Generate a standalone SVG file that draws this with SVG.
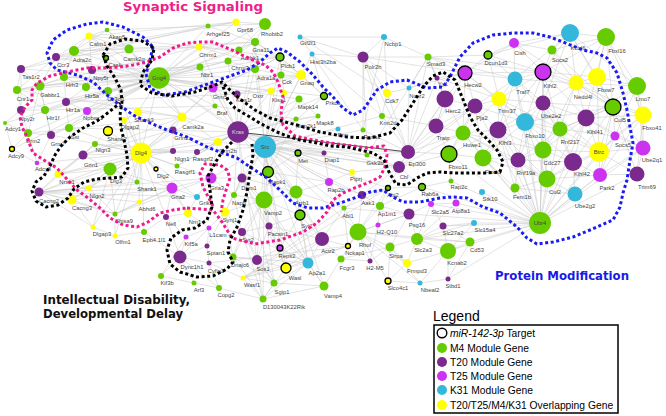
<svg xmlns="http://www.w3.org/2000/svg" width="666" height="416" viewBox="0 0 666 416">
<style>
.e{stroke:#c6c6c6;stroke-width:.5;fill:none}
.dk{stroke:#333;stroke-width:.9;fill:none}
.g{fill:#66cc00}.p{fill:#7a2a8c}.m{fill:#cc33f0}.c{fill:#33b8dc}.y{fill:#ffff00}
.t{stroke:#000;stroke-width:1.3}
text{font-family:"Liberation Sans",Arial,sans-serif}
.n text{font-size:5.8px;fill:#444;text-anchor:middle}
.dot{fill:none;stroke-width:3;stroke-dasharray:3 2.6;stroke-linejoin:round}
.bl{stroke:#1a1af5}.pk{stroke:#f01a8c}.bk{stroke:#000}
.ttl{font-family:"DejaVu Sans",Verdana,sans-serif;font-weight:bold}
.lg{font-size:10.3px;fill:#000}
</style>
<rect width="666" height="416" fill="#fff"/>
<g id="connectors">
<path class="e" d="M159 78L89 36M159 78L107 30M159 78L129 49M159 78L106 58M159 78L74 51M159 78L56 57M159 78L92 70M159 78L64 77M159 78L86 87M159 78L108 91M159 78L199 47M159 78L208 26M159 78L200 67M159 78L213 88M159 78L215 106M159 78L40 86M159 78L66 102M159 78L87 111M159 78L21 69M159 78L17 90M159 78L21 110M159 78L45 110M159 78L28 133M159 78L51 135M159 78L69 128M159 78L255 42M159 78L265 24M159 78L236 22M159 78L239 50M159 78L228 61M159 78L280 57M159 78L255 69M159 78L301 75M159 78L238 132M159 78L265 147M159 78L271 91M159 78L237 94M159 78L324 96M159 78L299 99M159 78L182 117M159 78L5 123M159 78L12 149M159 78L138 112M159 78L141 153"/>
<path class="e" d="M89 36L129 49M89 36L107 30M89 36L74 51M89 36L56 57M89 36L92 70M89 36L182 117M89 36L199 47M89 36L236 22M107 30L129 49M107 30L74 51M107 30L208 26M74 51L56 57M74 51L64 77M74 51L40 86M74 51L92 70M56 57L21 69M56 57L40 86M56 57L64 77M56 57L17 90M21 69L40 86M21 69L17 90M21 69L21 110M64 77L40 86M64 77L86 87M64 77L66 102M40 86L17 90M40 86L45 110M40 86L21 110M40 86L28 133M40 86L51 135M17 90L21 110M17 90L45 110M21 110L45 110M21 110L28 133M21 110L5 123M45 110L66 102M45 110L51 135M66 102L86 87M66 102L87 111M66 102L69 128M86 87L108 91M86 87L92 70M87 111L108 91M87 111L69 128M28 133L51 135M28 133L12 149M28 133L5 123M51 135L69 128M5 123L12 149M12 149L37 163M37 163L28 133M51 135L37 163M108 91L106 58M92 70L106 58M106 58L129 49M74 51L199 47M74 51L208 26M56 57L199 47M92 70L200 67M64 77L213 88M40 86L228 61M17 90L199 47M66 102L228 61M69 128L238 132M28 133L182 117M21 69L208 26M56 57L236 22M74 51L255 42M40 86L200 67M17 90L182 117M45 110L215 106M66 102L237 94M129 49L182 117M106 58L141 153M108 91L141 153"/>
<path class="e" d="M141 153L138 112M141 153L108 131M141 153L137 182M141 153L124 120M141 153L93 227M141 153L156 169M141 153L110 169M141 153L83 155M141 153L173 130M141 153L218 142M141 153L173 151M141 153L89 188M141 153L95 144M141 153L39 192M141 153L72 200M141 153L172 188M141 153L211 178M141 153L182 117M141 153L177 166M141 153L197 152M141 153L58 174M141 153L139 202M141 153L115 214M141 153L115 236M141 153L166 217M141 153L197 197M141 153L144 232M141 153L238 132M141 153L265 147M141 153L188 213M141 153L37 163M141 153L51 135M141 153L69 128M141 153L213 88M141 153L215 106"/>
<path class="e" d="M110 169L83 155M110 169L89 188M110 169L72 200M110 169L39 192M110 169L137 182M110 169L58 174M110 169L93 227M110 169L115 214M110 169L172 188M83 155L95 144M83 155L108 131M83 155L58 174M83 155L39 192M83 155L173 130M83 155L182 117M39 192L58 174M39 192L72 200M39 192L172 188M39 192L89 188M39 192L115 214M39 192L139 202M39 192L211 178M39 192L93 227M39 192L197 197M39 192L137 182M72 200L115 214M72 200L93 227M72 200L172 188M89 188L58 174M89 188L115 214M58 174L95 144M173 151L58 174M172 188L211 178M172 188L197 197M172 188L115 214M172 188L188 213M172 188L166 217M211 178L197 197M211 178L218 142M211 178L115 214M115 214L115 236M115 236L93 227M166 217L186 237M166 217L144 232M166 217L188 213M144 232L115 236M137 182L124 120M124 120L138 112M108 131L138 112M138 112L182 117M182 117L173 130M182 117L218 142M182 117L213 88M182 117L238 132M173 130L218 142M218 142L197 152M218 142L238 132M177 166L238 132M197 152L238 132M173 130L173 151M173 151L95 144M211 178L242 178M211 178L234 195M197 197L188 213M180 257L186 237M180 257L161 276M180 257L194 283M180 257L219 288M180 257L207 246M180 257L209 263M180 257L166 217M180 257L209 228M180 257L144 232M161 276L186 237M161 276L194 283M194 283L219 288M219 288L209 263M207 246L209 228M207 246L225 212M207 246L209 263M186 237L209 228M209 228L225 212M188 213L209 228M225 212L234 195M225 212L242 178M225 212L233 257M225 212L242 232M225 212L264 200M115 214L139 202M139 202L172 188"/>
<path class="e" d="M238 132L215 106M238 132L296 119M238 132L268 172M238 132L265 147M238 132L257 260M238 132L177 166M238 132L197 152M238 132L218 142M238 132L324 96M238 132L299 99M238 132L318 116M238 132L367 155M238 132L399 167M238 132L213 88M238 132L237 94M238 132L200 67M238 132L199 47M238 132L255 42M238 132L255 69M238 132L228 61M238 132L271 91M238 132L298 153M238 132L324 153M238 132L329 182M238 132L242 178M238 132L234 195M238 132L296 192"/>
<path class="e" d="M265 147L298 153M265 147L324 153M265 147L242 178M265 147L296 192M265 147L399 167M265 147L352 172M265 147L344 208M265 147L329 182M265 147L300 215M265 147L264 200M265 147L269 226M265 147L257 260M265 147L268 172M265 147L255 42M265 147L301 75M265 147L324 96M265 147L408 152M265 147L382 116M265 147L299 99M265 147L296 119M265 147L318 116M265 147L367 155M265 147L338 129M265 147L218 142M265 147L280 57M265 147L255 69M265 147L281 75M265 147L284 93M265 147L271 91M265 147L286 268M265 147L322 239M265 147L362 195M265 147L388 188M265 147L280 248M265 147L308 263M265 147L358 232M265 147L211 178M265 147L234 195M265 147L363 130M265 147L312 54"/>
<path class="e" d="M367 155L408 152M367 155L399 167M367 155L428 57M367 155L363 57M408 152L428 57M408 152L437 78M408 152L409 88M408 152L387 93M408 152L363 57M408 152L382 116M408 152L436 126M408 152L445 99M408 152L463 133M408 152L399 167M408 152L363 130M363 57L384 37M363 57L300 37M363 57L387 93M363 57L312 54M363 57L409 88M363 57L428 57M363 57L382 116M363 57L363 130M300 37L384 37M300 37L312 54M300 37L387 93M384 37L387 93M384 37L428 57M384 37L363 130M312 54L324 96M312 54L363 130M312 54L382 116M428 57L437 78M428 57L409 88M428 57L445 99M428 57L465 73M428 57L488 55M428 57L515 79M387 93L409 88M387 93L382 116M437 78L409 88M437 78L465 73M445 99L436 126M436 126L382 116M399 167L388 188M399 167L422 187M399 167L352 172M399 167L298 153M399 167L362 195M399 167L449 154M399 167L463 133M399 167L445 99M298 153L324 153M298 153L352 172M324 153L329 182M268 172L296 119M296 119L215 106M299 99L318 116M318 116L296 119M324 96L301 75M324 96L280 57M301 75L280 57M301 75L255 42M255 42L280 57M255 42L255 69M255 42L228 61M255 42L239 50M255 42L265 24M236 22L255 42M236 22L265 24M265 24L239 50M255 69L228 61M255 69L281 75M255 69L280 57M281 75L280 57M271 91L301 75M237 94L301 75M284 93L280 57M228 61L280 57M239 50L228 61M213 88L301 75M213 88L280 57M199 47L301 75M200 67L215 106M208 26L255 42M208 26L265 24M199 47L255 42M199 47L239 50M208 26L236 22M199 47L280 57M213 88L255 69M237 94L271 91"/>
<path class="e" d="M308 263L242 178M308 263L274 283M308 263L286 268M308 263L300 215M308 263L280 248M308 263L324 286M308 263L322 239M308 263L296 192M308 263L242 232M308 263L233 257M308 263L269 226M274 283L233 257M274 283L243 278M274 283L242 178M274 283L324 286M274 283L263 299M274 283L257 260M274 283L242 232M274 283L264 200M263 299L264 200M263 299L243 278M263 299L257 260M263 299L286 268M263 299L324 286M263 299L233 257M263 299L242 232M263 299L308 263M263 299L219 288M324 286L264 200M324 286L300 215M324 286L341 259M286 268L322 239M286 268L348 246M286 268L243 278M286 268L269 226M286 268L257 260M286 268L242 178M243 278L209 263M243 278L322 239M243 278L348 246M243 278L388 188M243 278L344 208M322 239L348 246M322 239L296 192M322 239L358 232M322 239L344 208M322 239L341 259M322 239L269 226M322 239L300 215M348 246L388 188M348 246L209 263M348 246L344 208M358 232L341 259M358 232L370 261M358 232L378 225M358 232L390 247M358 232L344 208M358 232L417 239M358 232L380 206M358 232L362 195M358 232L409 214M358 232L420 283M358 232L388 281M358 232L407 263M358 232L470 242M341 259L370 261M341 259L390 247M370 261L378 225M370 261L390 247M390 247L417 239M390 247L409 214M390 247L407 263M390 247L420 283M417 239L431 204M417 239L443 226M417 239L448 251M417 239L474 223M417 239L409 214M417 239L407 263M417 239L456 203M417 239L470 242M409 214L380 206M409 214L378 225M409 214L431 204M409 214L344 208M362 195L380 206M362 195L344 208M362 195L329 182M362 195L352 172M362 195L388 188M380 206L388 188M380 206L422 187M380 206L378 225M344 208L388 188M344 208L329 182M344 208L296 192M388 188L422 187M422 187L451 181M422 187L431 204M431 204L456 203M443 226L474 223M443 226L448 251M443 226L470 242M443 226L431 204M448 251L470 242M448 251L448 279M448 251L420 283M448 251L474 223M448 251L407 263M448 279L420 283M448 279L470 242M388 281L407 263M388 281L420 283M388 281L390 247M296 192L300 215M296 192L264 200M296 192L268 172M296 192L242 178M296 192L329 182M296 192L298 153M300 215L264 200M300 215L269 226M300 215L280 248M264 200L234 195M264 200L242 232M264 200L242 178M264 200L269 226M264 200L268 172M264 200L233 257M269 226L242 178M269 226L242 232M269 226L280 248M269 226L257 260M257 260L280 248M257 260L242 232M257 260L233 257M242 232L233 257M242 232L234 195M242 178L234 195M242 178L268 172M268 172L298 153M268 172L329 182M329 182L352 172M352 172L298 153"/>
<path class="e" d="M540 223L547 179M540 223L515 188M540 223L543 150M540 223L575 194M540 223L518 160M540 223L600 175M540 223L573 162M540 223L451 181M540 223L482 192M540 223L456 203M540 223L431 204M540 223L474 223M540 223L443 226M540 223L470 242M540 223L448 251M540 223L463 133M540 223L449 154M540 223L483 158M540 223L560 129M540 223L586 118M540 223L525 122M540 223L498 130M540 223L599 152M540 223L637 174M540 223L643 148M540 223L615 136M540 223L543 103M540 223L515 79M540 223L543 72M540 223L499 99M540 223L475 106M540 223L448 279M540 223L409 214M540 223L417 239M540 223L422 187"/>
<path class="e" d="M613 107L552 50M613 107L615 136M613 107L514 43M613 107L570 33M613 107L637 86M613 107L643 115M613 107L586 118M613 107L597 77M613 107L576 83M613 107L643 148M613 107L599 152M613 107L600 175M613 107L637 174M613 107L543 72M613 107L543 103M613 107L560 129M613 107L606 37M613 107L525 122M613 107L573 162M547 179L515 188M547 179L518 160M547 179L573 162M547 179L543 150M547 179L575 194M547 179L600 175M547 179L599 152M547 179L525 122M547 179L498 130M547 179L463 133M547 179L483 158M547 179L543 72M547 179L586 118M599 152L597 77M599 152L543 150M599 152L643 148M599 152L615 136M599 152L573 162M599 152L637 174M599 152L560 129M599 152L586 118M599 152L643 115M599 152L600 175M599 152L525 122M599 152L543 103M465 73L475 106M465 73L445 99M465 73L463 133M465 73L515 79M465 73L514 43M465 73L488 55M465 73L543 72M465 73L499 99M465 73L436 126M465 73L525 122M543 72L570 33M543 72L552 50M543 72L515 79M543 72L576 83M543 72L597 77M543 72L543 103M543 72L499 99M543 72L498 130M543 72L586 118M543 72L514 43M543 72L488 55M543 72L606 37M543 72L560 129M543 72L525 122M570 33L606 37M570 33L552 50M570 33L514 43M570 33L597 77M570 33L576 83M570 33L488 55M570 33L515 79M570 33L543 103M570 33L637 86M606 37L637 86M606 37L597 77M606 37L552 50M606 37L576 83M606 37L586 118M606 37L643 115M515 79L499 99M515 79L475 106M515 79L543 103M515 79L525 122M515 79L514 43M515 79L498 130M515 79L488 55M515 79L576 83M515 79L560 129M576 83L543 103M576 83L586 118M576 83L597 77M576 83L637 86M576 83L560 129M576 83L543 150M576 83L643 115M637 86L643 115M637 86L597 77M637 86L643 148M637 86L586 118M637 86L615 136M643 115L643 148M643 115L615 136M643 115L586 118M643 115L637 174M643 115L600 175M499 99L475 106M499 99L525 122M499 99L498 130M499 99L543 103M499 99L463 133M499 99L560 129M475 106L498 130M475 106L463 133M475 106L445 99M475 106L449 154M475 106L436 126M475 106L483 158M475 106L525 122M543 103L525 122M543 103L560 129M543 103L586 118M543 103L498 130M543 103L543 150M543 103L573 162M543 103L518 160M586 118L560 129M586 118L615 136M586 118L573 162M586 118L543 150M586 118L643 148M525 122L498 130M525 122L560 129M525 122L543 150M525 122L518 160M525 122L483 158M525 122L573 162M498 130L463 133M498 130L483 158M498 130L518 160M498 130L543 150M498 130L449 154M498 130L515 188M560 129L543 150M560 129L573 162M560 129L518 160M560 129L615 136M463 133L449 154M463 133L483 158M463 133L445 99M463 133L436 126M463 133L518 160M463 133L543 150M615 136L643 148M615 136L600 175M643 148L637 174M643 148L600 175M543 150L518 160M543 150L573 162M449 154L483 158M449 154L451 181M449 154L436 126M483 158L518 160M483 158L515 188M518 160L515 188M518 160L573 162M573 162L600 175M573 162L575 194M600 175L637 174M600 175L575 194M575 194L515 188M445 99L436 126M445 99L437 78M445 99L428 57M488 55L514 43M488 55L499 99M552 50L514 43M552 50L576 83M399 167L475 106M408 152L475 106M408 152L449 154M428 57L543 72M437 78L499 99M363 57L465 73M409 88L465 73"/>
<path class="dk" d="M238 132L408 152"/>
</g>
<g id="nodes">
<g class="n" id="n-calm1"><circle class="y" cx="89" cy="36" r="3.5"/><text x="98" y="46">Calm1</text></g>
<g class="n" id="n-akap5"><circle class="g" cx="107" cy="30" r="2.3"/><text x="117" y="39">Akap5</text></g>
<g class="n" id="n-camk2g"><circle class="g" cx="129" cy="49" r="4.5"/><text x="134" y="61">Camk2g</text></g>
<g class="n" id="n-cask"><circle class="g t" cx="106" cy="58" r="2.5"/><text x="115" y="67">Cask</text></g>
<g class="n" id="n-adra2c"><circle class="g" cx="74" cy="51" r="5"/><text x="82" y="62">Adra2c</text></g>
<g class="n" id="n-ccr3"><circle class="p" cx="56" cy="57" r="4"/><text x="63" y="67">Ccr3</text></g>
<g class="n" id="n-tas1r2"><circle class="p" cx="21" cy="69" r="4"/><text x="31" y="79">Tas1r2</text></g>
<g class="n" id="n-npy5r"><circle class="p" cx="92" cy="70" r="4"/><text x="101" y="80">Npy5r</text></g>
<g class="n" id="n-hrh3"><circle class="g" cx="64" cy="77" r="4"/><text x="72" y="87">Hrh3</text></g>
<g class="n" id="n-gng4"><circle class="g" cx="159" cy="78" r="10.7"/><text x="159" y="80">Gng4</text></g>
<g class="n" id="n-cnr1"><circle class="g" cx="17" cy="90" r="4"/><text x="23" y="101">Cnr1</text></g>
<g class="n" id="n-gabbr1"><circle class="g" cx="40" cy="86" r="4.5"/><text x="50" y="97">Gabbr1</text></g>
<g class="n" id="n-htr5a"><circle class="g" cx="86" cy="87" r="4"/><text x="92" y="98">Htr5a</text></g>
<g class="n" id="n-cx3cl1"><circle class="g" cx="108" cy="91" r="4"/><text x="116" y="101">Cx3cl1</text></g>
<g class="n" id="n-chrm1"><circle class="y" cx="199" cy="47" r="3.5"/><text x="208" y="57">Chrm1</text></g>
<g class="n" id="n-arhgef25"><circle class="g" cx="208" cy="26" r="2.5"/><text x="218" y="36">Arhgef25</text></g>
<g class="n" id="n-nbr1"><circle class="g" cx="200" cy="67" r="3.5"/><text x="207" y="77">Nbr1</text></g>
<g class="n" id="n-grm5"><circle class="m" cx="213" cy="88" r="4.5"/><text x="220" y="99">Grm5</text></g>
<g class="n" id="n-braf"><circle class="g" cx="215" cy="106" r="2.5"/><text x="222" y="115">Braf</text></g>
<g class="n" id="n-htr1a"><circle class="p" cx="66" cy="102" r="4"/><text x="73" y="112">Htr1a</text></g>
<g class="n" id="n-htr1f"><circle class="g" cx="45" cy="110" r="4"/><text x="53" y="120">Htr1f</text></g>
<g class="n" id="n-npy2r"><circle class="p" cx="21" cy="110" r="4"/><text x="27" y="121">Npy2r</text></g>
<g class="n" id="n-npbwr1"><circle class="m" cx="87" cy="111" r="4"/><text x="93" y="120">Npbwr1</text></g>
<g class="n" id="n-shank3"><circle class="y" cx="138" cy="112" r="4"/><text x="144" y="122">Shank3</text></g>
<g class="n" id="n-dlgap2"><circle class="y" cx="124" cy="120" r="3"/><text x="130" y="129">Dlgap2</text></g>
<g class="n" id="n-camk2a"><circle class="y" cx="182" cy="117" r="4.5"/><text x="193" y="129">Camk2a</text></g>
<g class="n" id="n-adcy1"><circle class="g" cx="5" cy="123" r="2"/><text x="13" y="131">Adcy1</text></g>
<g class="n" id="n-grm2"><circle class="g" cx="28" cy="133" r="4"/><text x="33" y="143">Grm2</text></g>
<g class="n" id="n-grm7"><circle class="p" cx="51" cy="135" r="4"/><text x="58" y="146">Grm7</text></g>
<g class="n" id="n-sst"><circle class="g" cx="69" cy="128" r="4"/><text x="75" y="139">Sst</text></g>
<g class="n" id="n-shank2"><circle class="y t" cx="108" cy="131" r="4.5"/><text x="117" y="141">Shank2</text></g>
<g class="n" id="n-grin2a"><circle class="p" cx="173" cy="130" r="3.5"/><text x="183" y="140">Grin2a</text></g>
<g class="n" id="n-nlgn3"><circle class="g" cx="95" cy="144" r="3"/><text x="103" y="152">Nlgn3</text></g>
<g class="n" id="n-dlg4"><circle class="y" cx="141" cy="153" r="10.5"/><text x="141" y="155">Dlg4</text></g>
<g class="n" id="n-adcy9"><circle class="y t" cx="12" cy="149" r="2.5"/><text x="16" y="158">Adcy9</text></g>
<g class="n" id="n-adcy8"><circle class="m" cx="37" cy="163" r="2.3"/><text x="43" y="171">Adcy8</text></g>
<g class="n" id="n-grin1"><circle class="p" cx="83" cy="155" r="4.5"/><text x="91" y="167">Grin1</text></g>
<g class="n" id="n-nlgn1"><circle class="p" cx="173" cy="151" r="3"/><text x="182" y="161">Nlgn1</text></g>
<g class="n" id="n-rasgrf2"><circle class="p" cx="197" cy="152" r="3"/><text x="203" y="161">Rasgrf2</text></g>
<g class="n" id="n-grin2b"><circle class="y" cx="218" cy="142" r="4"/><text x="228" y="153">Grin2b</text></g>
<g class="n" id="n-rasgrf1"><circle class="g" cx="177" cy="166" r="2.5"/><text x="185" y="174">Rasgrf1</text></g>
<g class="n" id="n-dlg2"><circle class="y t" cx="156" cy="169" r="2"/><text x="163" y="178">Dlg2</text></g>
<g class="n" id="n-dlg3"><circle class="g" cx="110" cy="169" r="6.5"/><text x="116" y="183">Dlg3</text></g>
<g class="n" id="n-nrxn1"><circle class="y" cx="58" cy="174" r="3.5"/><text x="67" y="184">Nrxn1</text></g>
<g class="n" id="n-shank1"><circle class="g" cx="137" cy="182" r="2.5"/><text x="147" y="191">Shank1</text></g>
<g class="n" id="n-gria2"><circle class="m" cx="172" cy="188" r="5.5"/><text x="178" y="199">Gria2</text></g>
<g class="n" id="n-gria3"><circle class="m" cx="211" cy="178" r="5.5"/><text x="217" y="190">Gria3</text></g>
<g class="n" id="n-cacng2"><circle class="p" cx="39" cy="192" r="4.5"/><text x="49" y="203">Cacng2</text></g>
<g class="n" id="n-nlgn2"><circle class="y" cx="89" cy="188" r="3"/><text x="97" y="198">Nlgn2</text></g>
<g class="n" id="n-cacng3"><circle class="y" cx="72" cy="200" r="4.5"/><text x="82" y="210">Cacng3</text></g>
<g class="n" id="n-abhd6"><circle class="y" cx="139" cy="202" r="2.5"/><text x="147" y="211">Abhd6</text></g>
<g class="n" id="n-grik"><text x="206" y="205">Grik5</text><circle class="c" cx="197" cy="197" r="3"/></g>
<g class="n" id="n-synj1"><circle class="y" cx="225" cy="212" r="4.5"/><text x="230" y="222">Synj1</text></g>
<g class="n" id="n-nrn1"><circle class="y" cx="188" cy="213" r="4"/><text x="195" y="224">Nrn1</text></g>
<g class="n" id="n-shisa9"><circle class="g" cx="115" cy="214" r="2.5"/><text x="124" y="223">Shisa9</text></g>
<g class="n" id="n-nefl"><circle class="p" cx="166" cy="217" r="3"/><text x="171" y="226">Nefl</text></g>
<g class="n" id="n-dlgap3"><circle class="y" cx="93" cy="227" r="2.5"/><text x="102" y="236">Dlgap3</text></g>
<g class="n" id="n-olfm1"><circle class="y" cx="115" cy="236" r="2.5"/><text x="123" y="244">Olfm1</text></g>
<g class="n" id="n-epb41l1"><circle class="g" cx="144" cy="232" r="3"/><text x="154" y="242">Epb4.1l1</text></g>
<g class="n" id="n-l1cam"><circle class="m" cx="209" cy="228" r="2.5"/><text x="218" y="237">L1cam</text></g>
<g class="n" id="n-kif5a"><circle class="m" cx="186" cy="237" r="2.5"/><text x="191" y="246">Kif5a</text></g>
<g class="n" id="n-sptan1"><circle class="p" cx="207" cy="246" r="2.5"/><text x="216" y="255">Sptan1</text></g>
<g class="n" id="n-dync1h1"><circle class="p" cx="180" cy="257" r="6.5"/><text x="192" y="269">Dync1h1</text></g>
<g class="n" id="n-cyfip2"><circle class="p" cx="209" cy="263" r="2.5"/><text x="216" y="273">Cyfip2</text></g>
<g class="n" id="n-kif3b"><circle class="g" cx="161" cy="276" r="3"/><text x="167" y="285">Kif3b</text></g>
<g class="n" id="n-arf3"><circle class="g" cx="194" cy="283" r="2.5"/><text x="199" y="292">Arf3</text></g>
<g class="n" id="n-copg2"><circle class="g" cx="219" cy="288" r="3"/><text x="226" y="297">Copg2</text></g>
<g class="n" id="n-gpr68"><circle class="y" cx="236" cy="22" r="3.5"/><text x="245" y="32">Gpr68</text></g>
<g class="n" id="n-rhobtb2"><circle class="g" cx="265" cy="24" r="6"/><text x="272" y="36">Rhobtb2</text></g>
<g class="n" id="n-gna11"><circle class="g" cx="255" cy="42" r="4"/><text x="261" y="52">Gna11</text></g>
<g class="n" id="n-adrbk1"><circle class="g" cx="239" cy="50" r="3.5"/><text x="250" y="60">Adrbk1</text></g>
<g class="n" id="n-chrm3"><circle class="g" cx="228" cy="61" r="3.5"/><text x="240" y="70">Chrm3</text></g>
<g class="n" id="n-plcb1"><circle class="g t" cx="280" cy="57" r="4"/><text x="288" y="68">Plcb1</text></g>
<g class="n" id="n-adra1a"><circle class="g" cx="255" cy="69" r="4"/><text x="266" y="80">Adra1a</text></g>
<g class="n" id="n-cck"><circle class="g" cx="281" cy="75" r="3.5"/><text x="287" y="84">Cck</text></g>
<g class="n" id="n-gnaq"><circle class="y" cx="301" cy="75" r="5"/><text x="307" y="85">Gnaq</text></g>
<g class="n" id="n-oxtr"><circle class="y" cx="271" cy="91" r="3.5"/><text x="258" y="98">Oxtr</text></g>
<g class="n" id="n-kiss1r"><circle class="p" cx="237" cy="94" r="3.5"/><text x="244" y="102">Kiss1r</text></g>
<g class="n" id="n-kiss1"><circle class="y" cx="284" cy="93" r="3"/><text x="279" y="102">Kiss1</text></g>
<g class="n" id="n-mapk14"><circle class="g" cx="299" cy="99" r="3.5"/><text x="308" y="109">Mapk14</text></g>
<g class="n" id="n-prkca"><circle class="g t" cx="324" cy="96" r="3.5"/><text x="333" y="105">Prkca</text></g>
<g class="n" id="n-map2k1"><circle class="g" cx="296" cy="119" r="2.5"/><text x="306" y="128">Map2k1</text></g>
<g class="n" id="n-mapk8"><circle class="g" cx="318" cy="116" r="2.5"/><text x="325" y="125">Mapk8</text></g>
<g class="n" id="n-pnp"><circle class="c" cx="338" cy="129" r="2.5"/><text x="343" y="137">Pnp</text></g>
<g class="n" id="n-gtf2f1"><circle class="c" cx="300" cy="37" r="2.5"/><text x="308" y="45">Gtf2f1</text></g>
<g class="n" id="n-ncbp1"><circle class="c" cx="384" cy="37" r="3"/><text x="393" y="46">Ncbp1</text></g>
<g class="n" id="n-hist3h2ba"><circle class="c" cx="312" cy="54" r="2.5"/><text x="323" y="64">Hist3h2ba</text></g>
<g class="n" id="n-polr2h"><circle class="p" cx="363" cy="57" r="5.5"/><text x="373" y="69">Polr2h</text></g>
<g class="n" id="n-smad3"><circle class="g" cx="428" cy="57" r="3.5"/><text x="436" y="66">Smad3</text></g>
<g class="n" id="n-cdk7"><circle class="y" cx="387" cy="93" r="4"/><text x="392" y="103">Cdk7</text></g>
<g class="n" id="n-ncor2"><circle class="c" cx="409" cy="88" r="2.5"/><text x="417" y="98">Ncor2</text></g>
<g class="n" id="n-yy1"><circle class="p" cx="437" cy="78" r="2.5"/><text x="443" y="86">Yy1</text></g>
<g class="n" id="n-kmt2d"><circle class="g" cx="382" cy="116" r="3"/><text x="388" y="125">Kmt2d</text></g>
<g class="n" id="n-rasa1"><circle class="g" cx="363" cy="130" r="2.5"/><text x="372" y="139">Rasa1</text></g>
<g class="n" id="n-kras"><circle class="p" cx="238" cy="132" r="10.7"/><text x="238" y="134" style="fill:#ddd">Kras</text></g>
<g class="n" id="n-src"><circle class="c" cx="265" cy="147" r="11"/><text x="265" y="149">Src</text></g>
<g class="n" id="n-traip"><circle class="p" cx="436" cy="126" r="7.5"/><text x="443" y="140">Traip</text></g>
<g class="n" id="n-herc2"><circle class="p" cx="445" cy="99" r="8.5"/><text x="453" y="113">Herc2</text></g>
<g class="n" id="n-kctd6"><circle class="c" cx="570" cy="33" r="9"/><text x="578" y="50">Kctd6</text></g>
<g class="n" id="n-fbxl16"><circle class="g" cx="606" cy="37" r="9"/><text x="617" y="53">Fbxl16</text></g>
<g class="n" id="n-cish"><circle class="m" cx="514" cy="43" r="5"/><text x="520" y="55">Cish</text></g>
<g class="n" id="n-socs2"><circle class="g" cx="552" cy="50" r="4.5"/><text x="560" y="62">Socs2</text></g>
<g class="n" id="n-dcun1d3"><circle class="g t" cx="488" cy="55" r="4"/><text x="496" y="65">Dcun1d3</text></g>
<g class="n" id="n-hecw2"><circle class="m t" cx="465" cy="73" r="7"/><text x="473" y="87">Hecw2</text></g>
<g class="n" id="n-klhl2"><circle class="m t" cx="543" cy="72" r="8"/><text x="550" y="88">Klhl2</text></g>
<g class="n" id="n-traf7"><circle class="c" cx="515" cy="79" r="7.5"/><text x="523" y="94">Traf7</text></g>
<g class="n" id="n-fbxw7"><circle class="y" cx="597" cy="77" r="9"/><text x="606" y="92">Fbxw7</text></g>
<g class="n" id="n-nedd4l"><circle class="y" cx="576" cy="83" r="7.5"/><text x="583" y="99">Nedd4l</text></g>
<g class="n" id="n-lmo7"><circle class="g" cx="637" cy="86" r="9"/><text x="643" y="101">Lmo7</text></g>
<g class="n" id="n-trim37"><circle class="y" cx="499" cy="99" r="7.5"/><text x="507" y="113">Trim37</text></g>
<g class="n" id="n-pja2"><circle class="p" cx="475" cy="106" r="7.5"/><text x="482" y="120">Pja2</text></g>
<g class="n" id="n-ube2e2"><circle class="p" cx="543" cy="103" r="7.5"/><text x="551" y="118">Ube2e2</text></g>
<g class="n" id="n-cul5"><circle class="g t" cx="613" cy="107" r="8"/><text x="620" y="122">Cul5</text></g>
<g class="n" id="n-fbxo41"><circle class="y" cx="643" cy="115" r="8.5"/><text x="652" y="130">Fbxo41</text></g>
<g class="n" id="n-klhl41"><circle class="p" cx="586" cy="118" r="8.5"/><text x="595" y="134">Klhl41</text></g>
<g class="n" id="n-fbxo10"><circle class="c" cx="525" cy="122" r="9"/><text x="535" y="138">Fbxo10</text></g>
<g class="n" id="n-klhl3"><circle class="p" cx="498" cy="130" r="8.5"/><text x="505" y="145">Klhl3</text></g>
<g class="n" id="n-rnf217"><circle class="g" cx="560" cy="129" r="7.5"/><text x="570" y="144">Rnf217</text></g>
<g class="n" id="n-huwe1"><circle class="g" cx="463" cy="133" r="7.5"/><text x="472" y="147">Huwe1</text></g>
<g class="n" id="n-socs5"><circle class="m" cx="615" cy="136" r="4.5"/><text x="623" y="147">Socs5</text></g>
<g class="n" id="n-ube2q1"><circle class="m" cx="643" cy="148" r="7.5"/><text x="652" y="162">Ube2q1</text></g>
<g class="n" id="n-cdc27"><circle class="g" cx="543" cy="150" r="8.5"/><text x="552" y="165">Cdc27</text></g>
<g class="n" id="n-btrc"><circle class="y" cx="599" cy="152" r="10"/><text x="599" y="154">Btrc</text></g>
<g class="n" id="n-fbxo11"><circle class="g t" cx="449" cy="154" r="8"/><text x="458" y="169">Fbxo11</text></g>
<g class="n" id="n-fbxo3"><circle class="g" cx="483" cy="158" r="8.5"/><text x="493" y="174">Fbxo3</text></g>
<g class="n" id="n-rnf19a"><circle class="p" cx="518" cy="160" r="7.5"/><text x="526" y="175">Rnf19a</text></g>
<g class="n" id="n-klhl42"><circle class="p" cx="573" cy="162" r="9"/><text x="582" y="176">Klhl42</text></g>
<g class="n" id="n-park2"><circle class="m" cx="600" cy="175" r="7"/><text x="607" y="190">Park2</text></g>
<g class="n" id="n-trim69"><circle class="p" cx="637" cy="174" r="7.5"/><text x="647" y="189">Trim69</text></g>
<g class="n" id="n-cul2"><circle class="g" cx="547" cy="179" r="8.5"/><text x="555" y="194">Cul2</text></g>
<g class="n" id="n-ube2g2"><circle class="c" cx="575" cy="194" r="7.5"/><text x="585" y="208">Ube2g2</text></g>
<g class="n" id="n-fem1b"><circle class="g" cx="515" cy="188" r="4.5"/><text x="522" y="199">Fem1b</text></g>
<g class="n" id="n-rap2c"><circle class="g" cx="451" cy="181" r="2.5"/><text x="459" y="189">Rap2c</text></g>
<g class="n" id="n-stk10"><circle class="c" cx="482" cy="192" r="3"/><text x="490" y="201">Stk10</text></g>
<g class="n" id="n-atp8a1"><circle class="m" cx="456" cy="203" r="3.5"/><text x="461" y="213">Atp8a1</text></g>
<g class="n" id="n-slc2a5"><circle class="m" cx="431" cy="204" r="3"/><text x="440" y="214">Slc2a5</text></g>
<g class="n" id="n-ubr4"><circle class="g" cx="540" cy="223" r="11"/><text x="540" y="225">Ubr4</text></g>
<g class="n" id="n-slc15a4"><circle class="c" cx="474" cy="223" r="3"/><text x="485" y="232">Slc15a4</text></g>
<g class="n" id="n-slc27a2"><circle class="p" cx="443" cy="226" r="3.5"/><text x="453" y="235">Slc27a2</text></g>
<g class="n" id="n-cd53"><circle class="g" cx="470" cy="242" r="4.5"/><text x="477" y="252">Cd53</text></g>
<g class="n" id="n-kcnab2"><circle class="g" cx="448" cy="251" r="8"/><text x="457" y="265">Kcnab2</text></g>
<g class="n" id="n-stbd1"><circle class="p" cx="448" cy="279" r="2.5"/><text x="453" y="288">Stbd1</text></g>
<g class="n" id="n-met"><circle class="g t" cx="298" cy="153" r="3"/><text x="303" y="163">Met</text></g>
<g class="n" id="n-diap1"><circle class="p" cx="324" cy="153" r="2.5"/><text x="332" y="162">Diap1</text></g>
<g class="n" id="n-gsk3b"><circle class="g" cx="367" cy="155" r="2.5"/><text x="375" y="165">Gsk3b</text></g>
<g class="n" id="n-ep300"><circle class="p" cx="408" cy="152" r="7"/><text x="417" y="166">Ep300</text></g>
<g class="n" id="n-cbl"><circle class="p" cx="399" cy="167" r="6"/><text x="404" y="179">Cbl</text></g>
<g class="n" id="n-mapk1"><circle class="g t" cx="268" cy="172" r="5.5"/><text x="277" y="184">Mapk1</text></g>
<g class="n" id="n-ptprj"><circle class="y" cx="352" cy="172" r="3"/><text x="356" y="181">Ptprj</text></g>
<g class="n" id="n-rap2b"><circle class="m" cx="329" cy="182" r="4"/><text x="336" y="192">Rap2b</text></g>
<g class="n" id="n-dnm1"><circle class="p" cx="242" cy="178" r="4.5"/><text x="249" y="190">Dnm1</text></g>
<g class="n" id="n-abi2"><circle class="g t" cx="388" cy="188" r="2.5"/><text x="393" y="197">Abi2</text></g>
<g class="n" id="n-rab6a"><circle class="g t" cx="422" cy="187" r="3.5"/><text x="430" y="196">Rab6a</text></g>
<g class="n" id="n-arrb1"><circle class="g" cx="296" cy="192" r="6.5"/><text x="302" y="205">Arrb1</text></g>
<g class="n" id="n-aak1"><circle class="p" cx="362" cy="195" r="4"/><text x="368" y="205">Aak1</text></g>
<g class="n" id="n-napb"><circle class="g" cx="234" cy="195" r="3"/><text x="239" y="205">Napb</text></g>
<g class="n" id="n-vamp2"><circle class="g" cx="264" cy="200" r="8.5"/><text x="273" y="215">Vamp2</text></g>
<g class="n" id="n-syt1"><circle class="g t" cx="300" cy="215" r="5"/><text x="307" y="228">Syt1</text></g>
<g class="n" id="n-abl1"><circle class="g" cx="344" cy="208" r="2.5"/><text x="348" y="218">Abl1</text></g>
<g class="n" id="n-ap1m1"><circle class="g" cx="380" cy="206" r="4"/><text x="387" y="216">Ap1m1</text></g>
<g class="n" id="n-psg16"><circle class="p" cx="409" cy="214" r="5.5"/><text x="417" y="227">Psg16</text></g>
<g class="n" id="n-pacsin1"><circle class="p" cx="269" cy="226" r="3.5"/><text x="278" y="236">Pacsin1</text></g>
<g class="n" id="n-syt2"><circle class="p" cx="242" cy="232" r="4"/><text x="248" y="242">Syt2</text></g>
<g class="n" id="n-h2q10"><circle class="m" cx="378" cy="225" r="2.5"/><text x="387" y="234">H2-Q10</text></g>
<g class="n" id="n-actr2"><circle class="p" cx="322" cy="239" r="7"/><text x="328" y="253">Actr2</text></g>
<g class="n" id="n-rhof"><circle class="g" cx="358" cy="232" r="8.5"/><text x="365" y="247">Rhof</text></g>
<g class="n" id="n-nckap1"><circle class="y t" cx="348" cy="246" r="2.5"/><text x="355" y="255">Nckap1</text></g>
<g class="n" id="n-slc2a3"><circle class="g" cx="417" cy="239" r="6"/><text x="423" y="252">Slc2a3</text></g>
<g class="n" id="n-sirpa"><circle class="g" cx="390" cy="247" r="4.5"/><text x="396" y="258">Sirpa</text></g>
<g class="n" id="n-reps2"><circle class="m t" cx="280" cy="248" r="3"/><text x="287" y="258">Reps2</text></g>
<g class="n" id="n-sos1"><circle class="p" cx="257" cy="260" r="5"/><text x="263" y="271">Sos1</text></g>
<g class="n" id="n-dnajc6"><circle class="g" cx="233" cy="257" r="3.5"/><text x="240" y="267">Dnajc6</text></g>
<g class="n" id="n-wasl"><circle class="y t" cx="286" cy="268" r="5"/><text x="295" y="280">Wasl</text></g>
<g class="n" id="n-ap2a1"><circle class="c" cx="308" cy="263" r="5.5"/><text x="317" y="275">Ap2a1</text></g>
<g class="n" id="n-fcgr3"><circle class="g" cx="341" cy="259" r="3.5"/><text x="347" y="270">Fcgr3</text></g>
<g class="n" id="n-h2m5"><circle class="p" cx="370" cy="261" r="2.5"/><text x="375" y="270">H2-M5</text></g>
<g class="n" id="n-frmpd3"><circle class="y" cx="407" cy="263" r="4"/><text x="417" y="273">Frmpd3</text></g>
<g class="n" id="n-slco4c1"><circle class="y t" cx="388" cy="281" r="3"/><text x="398" y="290">Slco4c1</text></g>
<g class="n" id="n-nbeal2"><circle class="c" cx="420" cy="283" r="2.5"/><text x="430" y="292">Nbeal2</text></g>
<g class="n" id="n-wasf1"><circle class="y" cx="243" cy="278" r="2.5"/><text x="252" y="287">Wasf1</text></g>
<g class="n" id="n-sgip1"><circle class="g" cx="274" cy="283" r="3.5"/><text x="282" y="294">Sgip1</text></g>
<g class="n" id="n-vamp4"><circle class="g" cx="324" cy="286" r="4.5"/><text x="333" y="298">Vamp4</text></g>
<g class="n" id="n-d130043k22rik"><circle class="g" cx="263" cy="299" r="3.5"/><text x="284" y="309">D130043K22Rik</text></g>
</g>
<g id="regions">
<path class="dot bl" d="M153 47L150 60L146 74L150 88L163 95L185 92L213 82L233 75L247 70L260 62L270 53L278 48L287 52L300 62L313 75L323 87L333 97L343 108L353 115L363 110L370 100L377 90L390 82L407 80L427 88L443 87L450 77L460 57L473 43L493 35L513 33L533 33L550 37L563 42L583 50L597 53L607 58L617 73L623 93L627 110L630 127L633 143L630 160L627 180L623 193L620 207L613 220L590 230L573 237L553 242L537 244L527 238L517 227L500 213L483 207L467 198L453 197L440 198L420 202L403 202L393 197L383 190L370 192L357 197L340 203L323 208L308 208L293 203L283 193L267 178L250 167L237 158L220 152L207 147L187 137L167 130L150 123L133 115L122 107L107 95L93 82L77 75L57 70L50 63L47 53L53 40L67 30L87 24L103 22L123 27L143 37Z"/>
<path class="dot pk" d="M187 208L213 210L222 222L232 238L255 244L280 240L303 232L317 223L327 212L333 200L343 193L357 187L370 182L380 177L385 167L387 155L384 146L367 148L353 146L330 143L313 140L295 136L283 125L281 112L283 97L278 82L273 72L265 65L253 60L242 55L232 50L222 46L213 42L200 42L187 43L173 48L160 57L147 62L133 65L120 67L103 68L87 68L67 72L50 76L37 83L32 90L32 100L25 107L20 117L22 127L27 137L33 153L47 162L57 168L65 177L77 190L88 198L100 208L110 218L123 225L137 227L148 222L160 213L173 210Z M213 206L203 187L200 173L205 164L220 165L227 170L230 178L227 187L223 200L221 212"/>
<path class="dot bk" d="M103 55L110 44L125 39L142 41L154 48L152 60L143 72L140 85L152 93L172 96L195 92L213 86L222 82L230 90L240 99L255 110L270 118L297 125L320 132L347 137L370 138L390 133L402 120L413 103L423 87L433 76L443 72L455 80L462 97L470 117L478 130L488 140L497 150L503 162L500 172L485 173L470 173L455 173L440 172L427 173L417 178L407 185L396 184L389 172L384 160L373 153L360 150L347 147L330 146L317 143L300 140L287 136L277 132L267 127L258 122L250 117L243 113L235 108L228 100L222 84 M103 55L107 66L115 78L121 90L122 102L120 115L121 128L124 140L127 155L128 168L122 177L110 178L97 179L84 182L74 189L68 198L58 205L46 207L36 201L32 191L36 182L44 176L50 166L55 155L61 146L70 137L83 128L97 121L109 112L120 103 M232 142L222 152L215 163L208 176L210 190L212 207L207 220L195 228L182 230L171 238L167 250L170 264L180 272L197 277L213 276L227 269L233 262L228 252L230 240L237 227L243 210L247 192L250 172L253 155L252 144"/>
</g>
<g id="titles">
<text class="ttl" x="123" y="11" font-size="13" fill="#f0208a" textLength="140" lengthAdjust="spacingAndGlyphs">Synaptic Signaling</text>
<text class="ttl" x="495" y="280" font-size="12.3" fill="#1a1ae6" textLength="134" lengthAdjust="spacingAndGlyphs">Protein Modification</text>
<text class="ttl" x="43" y="304" font-size="13" fill="#111" textLength="147" lengthAdjust="spacingAndGlyphs">Intellectual Disability,</text>
<text class="ttl" x="43" y="318" font-size="13" fill="#111" textLength="140" lengthAdjust="spacingAndGlyphs">Developmental Delay</text>
</g>
<g id="legend">
<text x="433" y="321" font-size="14" fill="#000">Legend</text>
<rect x="434" y="325" width="184" height="88" fill="#fff" stroke="#000" stroke-width="1.5"/>
<circle cx="442" cy="333" r="4.8" fill="#fff" stroke="#000" stroke-width="1.4"/>
<circle class="g" cx="442" cy="348" r="5"/>
<circle class="p" cx="442" cy="362" r="5"/>
<circle class="m" cx="442" cy="376" r="5"/>
<circle class="c" cx="442" cy="390" r="5"/>
<circle class="y" cx="442" cy="405" r="5"/>
<text class="lg" x="450" y="337"><tspan font-style="italic">miR-142-3p</tspan> Target</text>
<text class="lg" x="450" y="352">M4 Module Gene</text>
<text class="lg" x="450" y="366">T20 Module Gene</text>
<text class="lg" x="450" y="380">T25 Module Gene</text>
<text class="lg" x="450" y="394">K31 Module Gene</text>
<text class="lg" x="450" y="409">T20/T25/M4/K31 Overlapping Gene</text>
</g>
</svg>
